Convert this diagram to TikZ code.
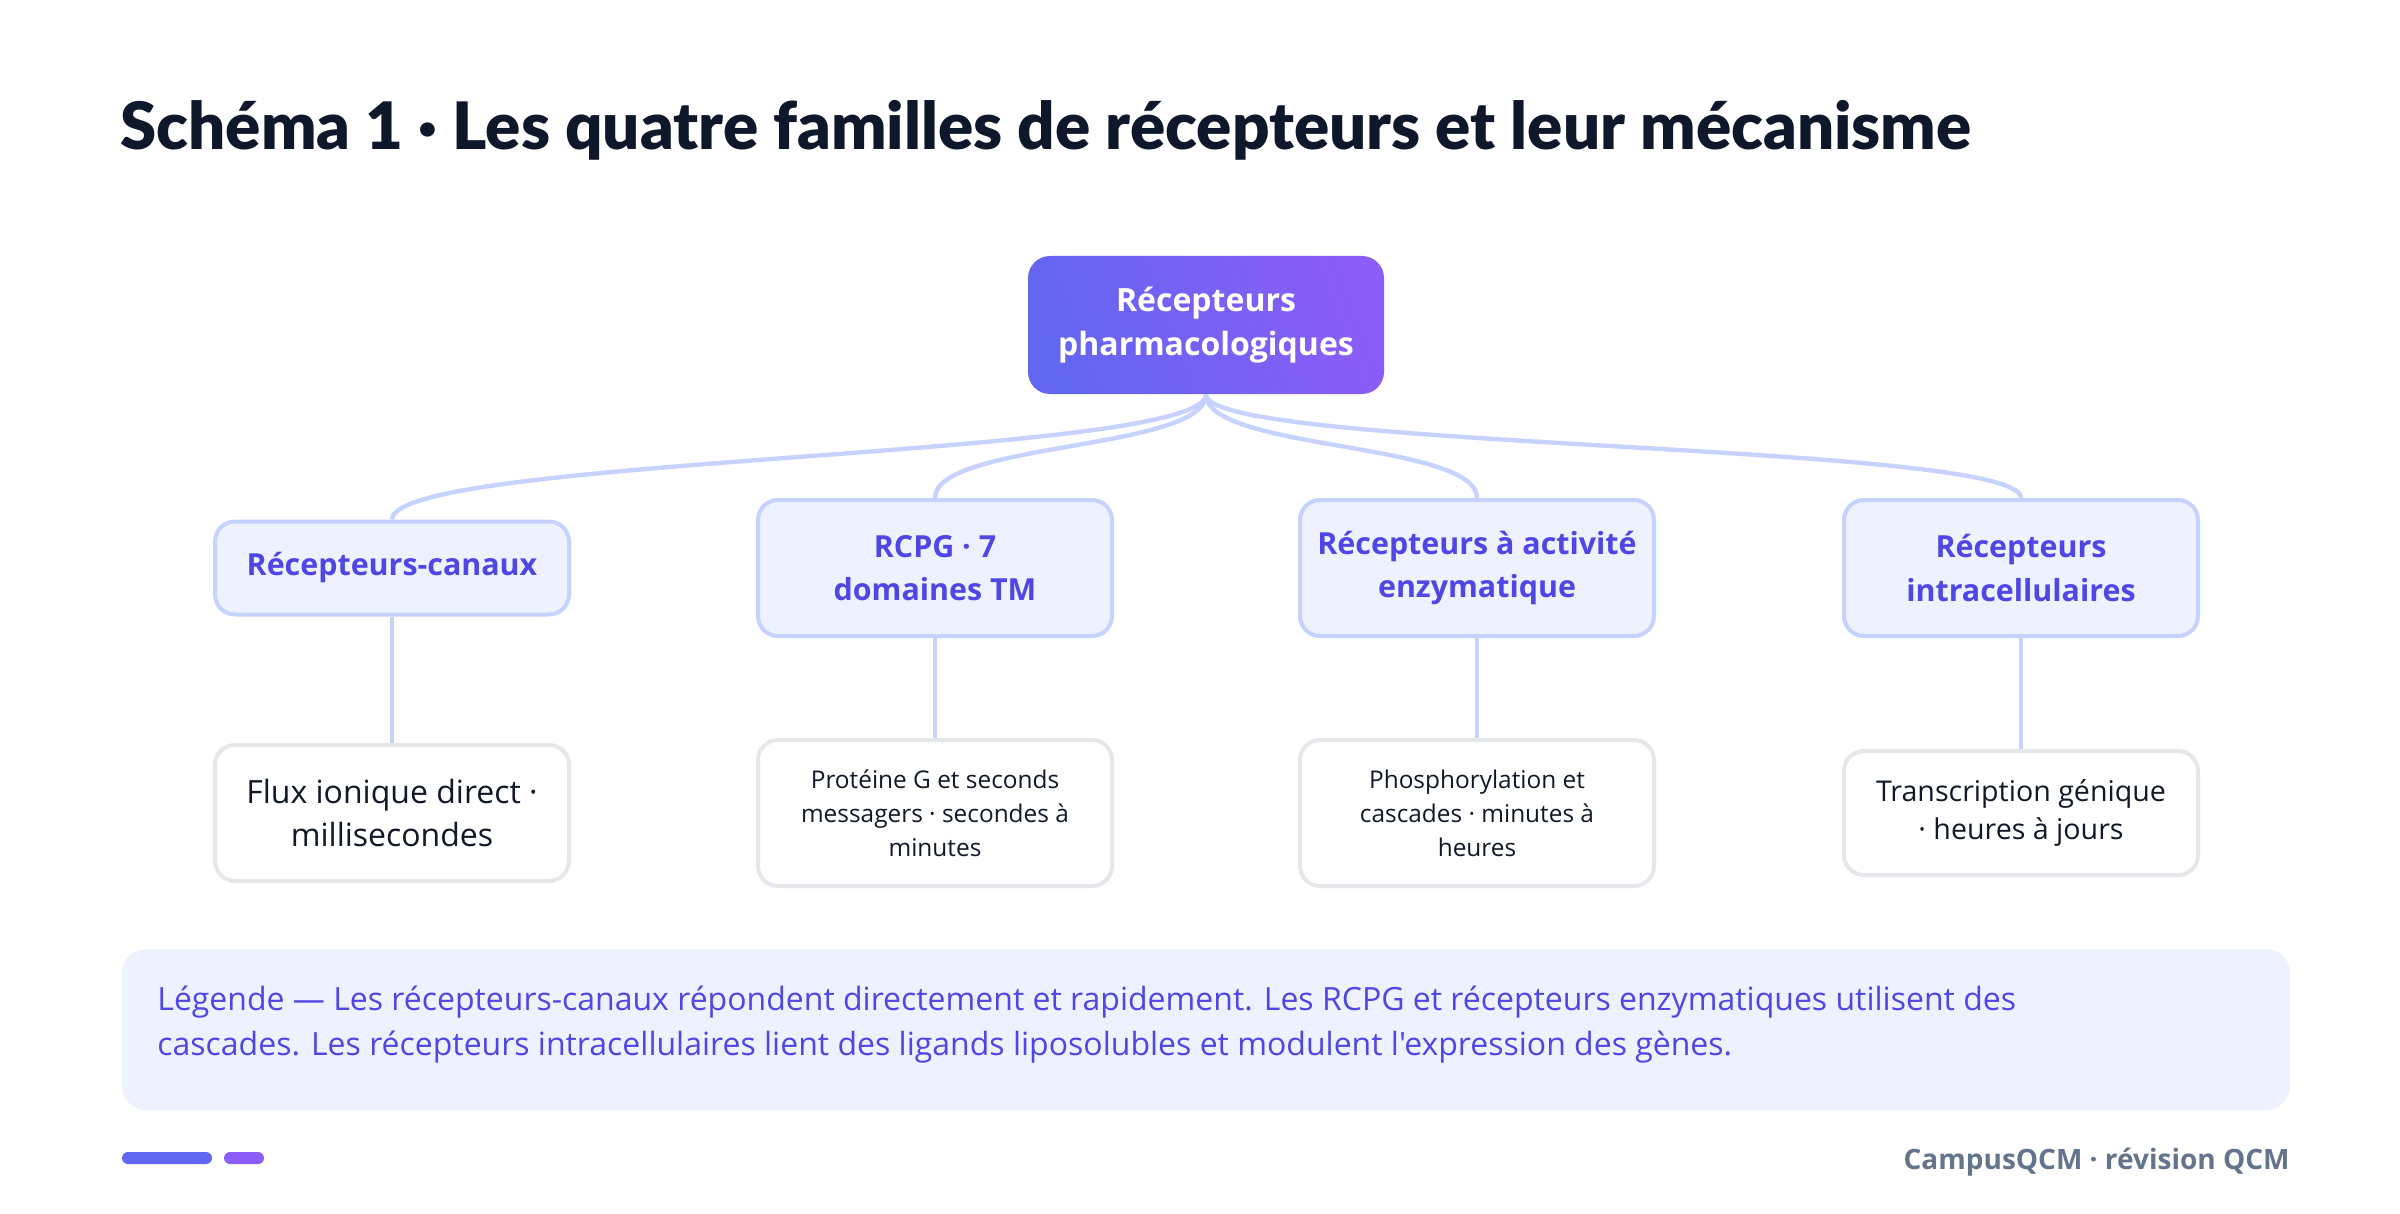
\documentclass[tikz,border=0pt]{standalone}
\usepackage{fontspec}
\setmainfont{Open Sans}[Ligatures=TeXOff]
\newfontfamily\titrefont{Lato}[UprightFont=* Black]
\usetikzlibrary{shapes,positioning}
\definecolor{titre}{HTML}{0F172A}
\definecolor{indigo}{HTML}{6366F1}
\definecolor{mauve}{HTML}{8B5CF6}
\definecolor{encre}{HTML}{4F46E5}
\definecolor{fond}{HTML}{EEF2FF}
\definecolor{bord}{HTML}{C7D2FE}
\definecolor{grisbord}{HTML}{E5E7EB}
\definecolor{texte}{HTML}{111827}
\definecolor{pied}{HTML}{64748B}

\begin{document}
\begin{tikzpicture}[x=1pt,y=-1pt,
  rootbox/.style={rectangle, rounded corners=11pt, minimum width=178pt, minimum height=69pt, inner sep=0pt,
    left color=indigo, right color=mauve, shading angle=110, text=white, align=center,
    font=\bfseries\fontsize{16}{21.6}\selectfont},
  famille/.style={rectangle, rounded corners=10pt, draw=bord, line width=2pt, fill=fond, minimum width=177pt,
    inner sep=0pt, text=encre, align=center, font=\bfseries\fontsize{15.2}{21.6}\selectfont},
  detail/.style={rectangle, rounded corners=10pt, draw=grisbord, line width=2pt, fill=white, minimum width=177pt,
    inner sep=0pt, text=texte, align=center},
  lien/.style={draw=bord, line width=2.2pt}]
\useasboundingbox (0,0) rectangle (1200,607);
\fill[white] (0,0) rectangle (1200,607);

% Title
\node[anchor=base west, inner sep=0pt, text=titre, font=\titrefont\fontsize{32.7}{38}\selectfont] (titre) at (60,74.6)
  {Schéma 1 · Les quatre familles de récepteurs et leur mécanisme};

% Root
\node[rootbox] (root) at (603,162.5) {Récepteurs\\pharmacologiques};

% Families left to right
\node[famille, minimum height=46.5pt] (canaux) at (196,284) {Récepteurs-canaux};
\node[famille, minimum height=68pt] (rcpg) at (467.5,284) {RCPG · 7\\domaines TM};
\node[famille, minimum height=68pt] (enzym) at (738.5,284) {Récepteurs à activité\\enzymatique};
\node[famille, minimum height=68pt] (intra) at (1010.5,284) {Récepteurs\\intracellulaires};

% Mechanisms left to right
\node[detail, minimum height=68pt, font=\fontsize{16}{21.6}\selectfont] (flux) at (196,406.5)
  {Flux ionique direct ·\\millisecondes};
\node[detail, minimum height=73pt, font=\fontsize{12.2}{17}\selectfont] (protg) at (467.5,406.5)
  {Protéine G et seconds\\messagers · secondes à\\minutes};
\node[detail, minimum height=73pt, font=\fontsize{12.2}{17}\selectfont] (phospho) at (738.5,406.5)
  {Phosphorylation et\\cascades · minutes à\\heures};
\node[detail, minimum height=62pt, font=\fontsize{14.3}{19}\selectfont] (transc) at (1010.5,406.5)
  {Transcription génique\\· heures à jours};

% Links from root
\draw[lien] (root.south) .. controls +(0,32) and +(0,-32) .. (canaux.north);
\draw[lien] (root.south) .. controls +(0,28) and +(0,-28) .. (rcpg.north);
\draw[lien] (root.south) .. controls +(0,28) and +(0,-28) .. (enzym.north);
\draw[lien] (root.south) .. controls +(0,28) and +(0,-28) .. (intra.north);

% Links down
\draw[lien] (canaux) -- (flux);
\draw[lien] (rcpg) -- (protg);
\draw[lien] (enzym) -- (phospho);
\draw[lien] (intra) -- (transc);

% Legend
\fill[fond, rounded corners=12pt] (61,474.5) rectangle (1145,555);
\node[anchor=base west, inner sep=0pt, align=left, text=encre, font=\fontsize{16}{22.7}\selectfont] (legende) at (78.5,527.7)
  {Légende — Les récepteurs-canaux répondent directement et rapidement. Les RCPG et récepteurs enzymatiques utilisent des\\
   cascades. Les récepteurs intracellulaires lient des ligands liposolubles et modulent l'expression des gènes.};

% Footer
\fill[indigo, rounded corners=3pt] (61,576) rectangle (106,582);
\fill[mauve, rounded corners=3pt] (112,576) rectangle (132,582);
\node[anchor=base east, inner sep=0pt, text=pied, font=\bfseries\fontsize{14}{17}\selectfont] (pied) at (1145,584.6)
  {CampusQCM · révision QCM};
\end{tikzpicture}
\end{document}
